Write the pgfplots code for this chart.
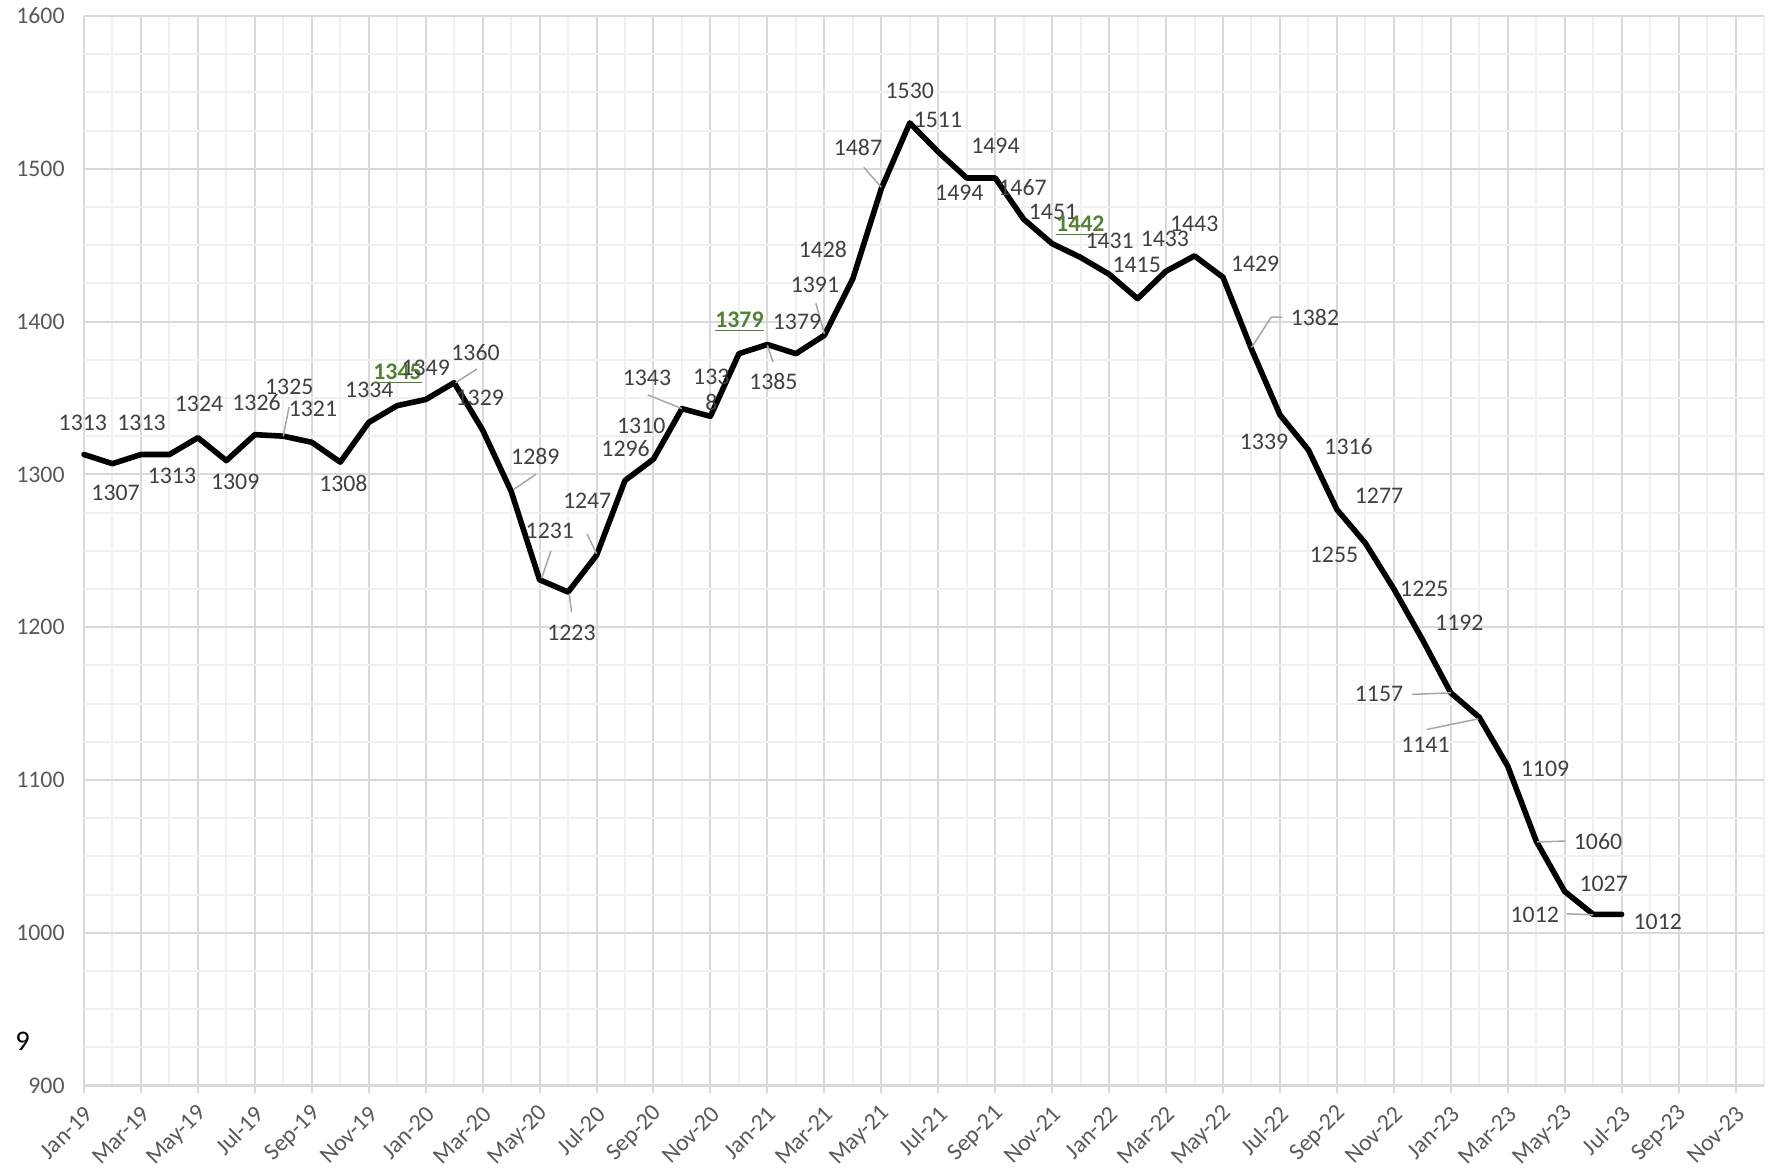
\documentclass[border=0pt]{standalone}
\usepackage{pgfplots}
\pgfplotsset{compat=1.18}
\usepackage{fontspec}
\setmainfont{Carlito}
\definecolor{majgrid}{HTML}{D9D9D9}
\definecolor{mingrid}{HTML}{F0F0F0}
\definecolor{labc}{HTML}{404040}
\definecolor{tickc}{HTML}{595959}
\definecolor{greenlab}{HTML}{548235}
\definecolor{leader}{HTML}{A6A6A6}
\tikzset{
  lab/.style={font=\fontsize{11.9}{14}\selectfont, text=labc, inner sep=0pt},
  glab/.style={font=\fontsize{11.9}{14}\selectfont\bfseries, text=greenlab, inner sep=0pt},
  ldr/.style={leader, line width=0.75pt},
}
\begin{document}
\begin{tikzpicture}
\useasboundingbox (0,0) rectangle (885.5pt,587.5pt);
\begin{axis}[
  at={(42pt,44.75pt)}, anchor=south west,
  scale only axis, width=840pt, height=534.75pt,
  xmin=0, xmax=59, ymin=900, ymax=1600,
  xtick={0,2,...,58},
  xticklabels={Jan-19,Mar-19,May-19,Jul-19,Sep-19,Nov-19,
               Jan-20,Mar-20,May-20,Jul-20,Sep-20,Nov-20,
               Jan-21,Mar-21,May-21,Jul-21,Sep-21,Nov-21,
               Jan-22,Mar-22,May-22,Jul-22,Sep-22,Nov-22,
               Jan-23,Mar-23,May-23,Jul-23,Sep-23,Nov-23},
  minor xtick={1,3,...,59},
  ytick={900,1000,...,1600},
  minor y tick num=3,
  grid=both,
  major grid style={majgrid, line width=1pt},
  minor grid style={mingrid, line width=1pt},
  axis x line*=bottom, axis y line*=left,
  x axis line style={majgrid, line width=1.75pt, -},
  y axis line style={draw=none},
  tick align=outside,
  major tick length=3.5pt, minor tick length=0pt,
  xtick style={majgrid, line width=1pt},
  ytick style={draw=none},
  tick label style={font=\fontsize{11.9}{14}\selectfont, text=tickc},
  /pgf/number format/assume math mode=true,
  /pgf/number format/1000 sep={},
  xticklabel style={xshift=3.2pt, yshift=-8pt, rotate=45, anchor=east, inner sep=1pt},
  yticklabel style={anchor=east, inner sep=0pt, xshift=-6pt},
  clip=false,
]
\addplot[black, line width=2.8pt, line join=round, line cap=round] coordinates {
(0,1313)(1,1307)(2,1313)(3,1313)(4,1324)(5,1309)(6,1326)(7,1325)(8,1321)(9,1308)(10,1334)(11,1345)
(12,1349)(13,1360)(14,1329)(15,1289)(16,1231)(17,1223)(18,1247)(19,1296)(20,1310)(21,1343)(22,1338)(23,1379)
(24,1385)(25,1379)(26,1391)(27,1428)(28,1487)(29,1530)(30,1511)(31,1494)(32,1494)(33,1467)(34,1451)(35,1442)
(36,1431)(37,1415)(38,1433)(39,1443)(40,1429)(41,1382)(42,1339)(43,1316)(44,1277)(45,1255)(46,1225)(47,1192)
(48,1157)(49,1141)(50,1109)(51,1060)(52,1027)(53,1012)(54,1012)
};
% leader lines
\draw[ldr] (axis cs:7,1325) -- (axis cs:7.2,1344);
\draw[ldr] (axis cs:13.05,1360) -- (axis cs:13.8,1369);
\draw[ldr] (axis cs:15.08,1290) -- (axis cs:15.87,1300);
\draw[ldr] (axis cs:16.07,1232) -- (axis cs:16.4,1250);
\draw[ldr] (axis cs:17.04,1222) -- (axis cs:17.12,1210);
\draw[ldr] (axis cs:17.67,1261) -- (axis cs:18.0,1248);
\draw[ldr] (axis cs:19.8,1352) -- (axis cs:21.0,1343);
\draw[ldr] (axis cs:24.0,1384.5) -- (axis cs:24.2,1373.5);
\draw[ldr] (axis cs:25.7,1412) -- (axis cs:26.0,1392);
\draw[ldr] (axis cs:27.38,1501) -- (axis cs:28,1488);
\draw[ldr] (axis cs:41.0,1383) -- (axis cs:41.7,1403) -- (axis cs:42.08,1403);
\draw[ldr] (axis cs:46.64,1156) -- (axis cs:48.0,1157);
\draw[ldr] (axis cs:47.15,1133) -- (axis cs:48.97,1140);
\draw[ldr] (axis cs:51.03,1059.4) -- (axis cs:52.02,1060);
\draw[ldr] (axis cs:52.07,1012.4) -- (axis cs:53.0,1011.7);
% data labels
\node[lab] at (axis cs:-0.04,1334) {1313};
\node[lab] at (axis cs:1.11,1288) {1307};
\node[lab] at (axis cs:2.02,1334) {1313};
\node[lab] at (axis cs:3.09,1299) {1313};
\node[lab] at (axis cs:4.04,1346) {1324};
\node[lab] at (axis cs:5.31,1295) {1309};
\node[lab] at (axis cs:6.06,1347) {1326};
\node[lab] at (axis cs:7.21,1357) {1325};
\node[lab] at (axis cs:8.04,1343) {1321};
\node[lab] at (axis cs:9.11,1294) {1308};
\node[lab] at (axis cs:10.02,1355) {1334};
\node[glab] at (axis cs:11.01,1366) {\underline{1345}};
\node[lab] at (axis cs:12.0,1370) {1349};
\node[lab] at (axis cs:13.75,1380) {1360};
\node[lab] at (axis cs:13.9,1350) {1329};
\node[lab] at (axis cs:15.85,1312) {1289};
\node[lab] at (axis cs:16.36,1263) {1231};
\node[lab] at (axis cs:17.12,1196) {1223};
\node[lab] at (axis cs:17.67,1283) {1247};
\node[lab] at (axis cs:19.02,1317) {1296};
\node[lab] at (axis cs:19.57,1332) {1310};
\node[lab] at (axis cs:19.77,1363) {1343};
\node[lab, align=center] at (axis cs:22.03,1355) {133\\[-1pt]8};
\node[glab] at (axis cs:23.02,1400) {\underline{1379}};
\node[lab] at (axis cs:24.21,1361) {1385};
\node[lab] at (axis cs:25.04,1400) {1379};
\node[lab] at (axis cs:25.67,1424) {1391};
\node[lab] at (axis cs:25.95,1447) {1428};
\node[lab] at (axis cs:27.18,1514) {1487};
\node[lab] at (axis cs:29.0,1551) {1530};
\node[lab] at (axis cs:29.99,1532) {1511};
\node[lab] at (axis cs:30.74,1484) {1494};
\node[lab] at (axis cs:32.01,1515) {1494};
\node[lab] at (axis cs:32.96,1488) {1467};
\node[lab] at (axis cs:34.03,1472) {1451};
\node[glab] at (axis cs:34.99,1463) {\underline{1442}};
\node[lab] at (axis cs:36.02,1453) {1431};
\node[lab] at (axis cs:36.97,1437) {1415};
\node[lab] at (axis cs:37.96,1454) {1433};
\node[lab] at (axis cs:38.99,1464) {1443};
\node[lab] at (axis cs:41.13,1438) {1429};
\node[lab] at (axis cs:43.23,1403) {1382};
\node[lab] at (axis cs:41.44,1321) {1339};
\node[lab] at (axis cs:44.41,1318) {1316};
\node[lab] at (axis cs:45.48,1286) {1277};
\node[lab] at (axis cs:43.9,1247) {1255};
\node[lab] at (axis cs:47.07,1225) {1225};
\node[lab] at (axis cs:48.3,1203) {1192};
\node[lab] at (axis cs:45.48,1156) {1157};
\node[lab] at (axis cs:47.11,1123) {1141};
\node[lab] at (axis cs:51.31,1107) {1109};
\node[lab] at (axis cs:53.17,1060) {1060};
\node[lab] at (axis cs:53.37,1032) {1027};
\node[lab] at (axis cs:50.95,1012) {1012};
\node[lab] at (axis cs:55.27,1007) {1012};
\end{axis}
\node[font=\fontsize{14.2}{16}\selectfont, text=black, inner sep=0pt] at (11.3pt,67pt) {9};
\end{tikzpicture}
\end{document}
